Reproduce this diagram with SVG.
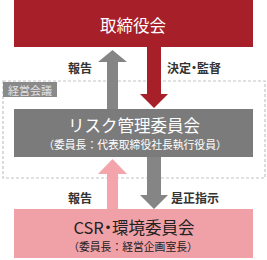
<svg xmlns="http://www.w3.org/2000/svg" width="267" height="260" viewBox="0 0 267 260">
<style>
text{font-family:"Noto Sans CJK JP","Noto Sans",sans-serif;text-anchor:middle;dominant-baseline:central}
.t{font-size:16.5px}
.s{font-size:10.8px}
.l{font-size:12px;font-weight:bold;fill:#333}
.w{fill:#fff}
.p{font-feature-settings:"palt"}
</style>
<rect width="267" height="260" fill="#fff"/>
<g id="keiei-kaigi">
<rect x="3" y="81" width="262" height="97" fill="none" stroke="#c4c4c4" stroke-width="1.2" stroke-dasharray="3 2"/>
<rect x="3" y="82" width="54" height="15" fill="#8a8a8a"/>
<text x="30" y="90" font-size="11" fill="#e2e2e2">経営会議</text>
</g>
<g id="connectors">
<path d="M147 47 H161 V94 H168 L154 108 L140 94 H147 Z" fill="#a71f29"/>
<path d="M107 109 V62 H98 L112.5 50 L127 62 H118 V109 Z" fill="#858585"/>
<path d="M147 157 H161 V195 H168 L154 209 L140 195 H147 Z" fill="#858585"/>
<path d="M107 209 V174 H98 L112.5 159 L127 174 H118 V209 Z" fill="#f3a5ab"/>
<text class="l" x="80" y="67">報告</text>
<text class="l p" x="194" y="67">決定・監督</text>
<text class="l" x="80" y="197">報告</text>
<text class="l" x="195" y="197">是正指示</text>
</g>
<g id="torishimariyakukai">
<rect x="14" y="0" width="239" height="47" fill="#a71f29"/>
<text class="t w" x="133" y="25">取締役会</text>
</g>
<g id="risk">
<rect x="14" y="109" width="239" height="48" fill="#7b7b7b"/>
<text class="t w" x="134" y="125">リスク管理委員会</text>
<text class="s w" x="135" y="144">（委員長：代表取締役社長執行役員）</text>
</g>
<g id="csr">
<rect x="14" y="209" width="239" height="49" fill="#f0a0a7"/>
<text class="t p" x="134" y="227" fill="#222">CSR・環境委員会</text>
<text class="s" x="133" y="246" fill="#222">（委員長：経営企画室長）</text>
</g>
</svg>
